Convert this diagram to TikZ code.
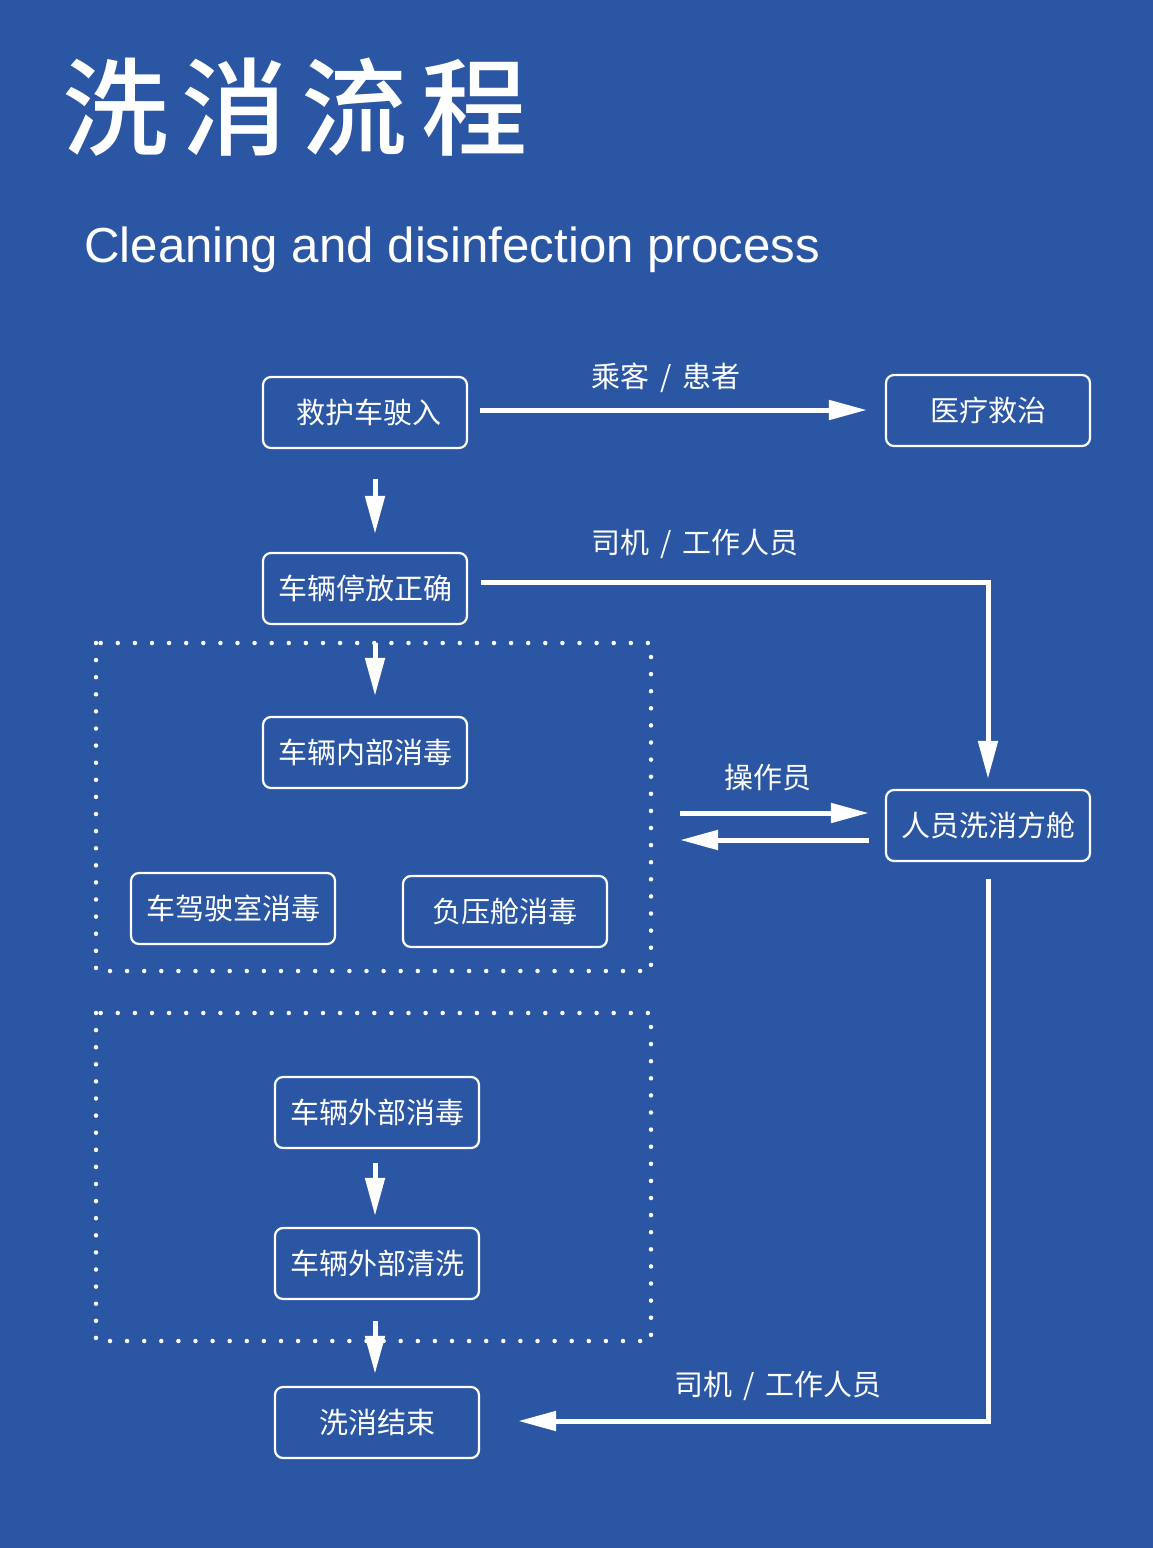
\documentclass[tikz,border=0pt]{standalone}
\usepackage{fontspec}
\setmainfont{Liberation Sans}
\newfontfamily\cjk{Noto Sans CJK SC}
\IfFontExistsTF{Noto Sans CJK SC Medium}{\newfontfamily\cjkt{Noto Sans CJK SC Medium}}{\newfontfamily\cjkt[UprightFont=*,FakeBold=2.5]{Noto Sans CJK SC}}
\usetikzlibrary{arrows.meta,calc}
\definecolor{bg}{RGB}{42,86,164}
\tikzset{
  box/.style={draw=white,line width=2.2pt,rounded corners=8pt,minimum width=204pt,minimum height=71pt,inner sep=0pt,text=white,font=\cjk\fontsize{29}{29}\selectfont},
  lbl/.style={text=white,inner sep=0pt,font=\cjk\fontsize{29}{29}\selectfont},
  arr/.style={draw=white,line width=5pt,-{Triangle[length=38pt,width=19pt]}},
  dotframe/.style={draw=white,line width=4.5pt,line cap=round,dash pattern=on 0pt off 17.1pt}
}
\newcommand\slsep{\hspace{11pt}/\hspace{11pt}}
\begin{document}
\begin{tikzpicture}[x=1pt,y=-1pt]
\fill[bg] (0,0) rectangle (1153,1548);
\useasboundingbox (0,0) rectangle (1153,1548);
% titles
\node[text=white,inner sep=0pt,font=\cjkt\fontsize{106}{106}\selectfont] (title) at (295,107) {洗\hspace{14pt}消\hspace{14pt}流\hspace{14pt}程};
\node[text=white,inner sep=0pt,anchor=base west,font=\fontsize{49.2}{49.2}\selectfont] (sub) at (84,262) {Cleaning and disinfection process};
% dotted frames
\draw[dotframe] (96,643) rectangle (651,971);
\draw[dotframe] (96,1013) rectangle (651,1341);
% boxes
\node[box] (a) at (365,412.5) {\hspace{8pt}救护车驶入};
\node[box] (b) at (988,410.5) {医疗救治};
\node[box] (e) at (365,588.5) {车辆停放正确};
\node[box] (f) at (365,752.5) {车辆内部消毒};
\node[box] (g1) at (233,908.5) {车驾驶室消毒};
\node[box] (g2) at (505,911.5) {负压舱消毒};
\node[box] (h) at (988,825.5) {人员洗消方舱};
\node[box] (i) at (377,1112.5) {车辆外部消毒};
\node[box] (j) at (377,1263.5) {车辆外部清洗};
\node[box] (k) at (377,1422.5) {洗消结束};
% labels
\node[lbl] (l1) at (666,378) {乘客\slsep 患者};
\node[lbl] (l2) at (695,544) {司机\slsep 工作人员};
\node[lbl] (l3) at (768,778) {操作员};
\node[lbl] (l4) at (778,1386) {司机\slsep 工作人员};
% coordinates
\coordinate (c0) at (480,410);
\coordinate (c1) at (988,582);
\coordinate (o1) at (680,813);
\coordinate (o2) at (680,840);
\coordinate (c2) at (988,1421);
% connectors
\draw[arr,shorten >=18pt] (c0) -- (c0 -| b.west);
\draw[arr,shorten <=30pt,shorten >=18pt] ([xshift=10pt]a.south) -- ([xshift=10pt]e.north);
\draw[arr,shorten <=13pt,shorten >=10pt] (e.east |- c1) -- (c1) -- (h.north);
\draw[arr,shorten <=18pt,shorten >=20pt] ([xshift=10pt]e.south) -- ([xshift=10pt]f.north);
\draw[arr,shorten >=16pt] (o1) -- (o1 -| h.west);
\draw[arr,shorten <=16pt] (o2 -| h.west) -- (o2);
\draw[arr,shorten <=17pt,shorten >=38pt] (h.south) -- (c2) -- (c2 -| k.east);
\draw[arr,shorten <=14pt,shorten >=11pt] ([xshift=-2pt]i.south) -- ([xshift=-2pt]j.north);
\draw[arr,shorten <=21pt,shorten >=12pt] ([xshift=-2pt]j.south) -- ([xshift=-2pt]k.north);
\end{tikzpicture}
\end{document}
